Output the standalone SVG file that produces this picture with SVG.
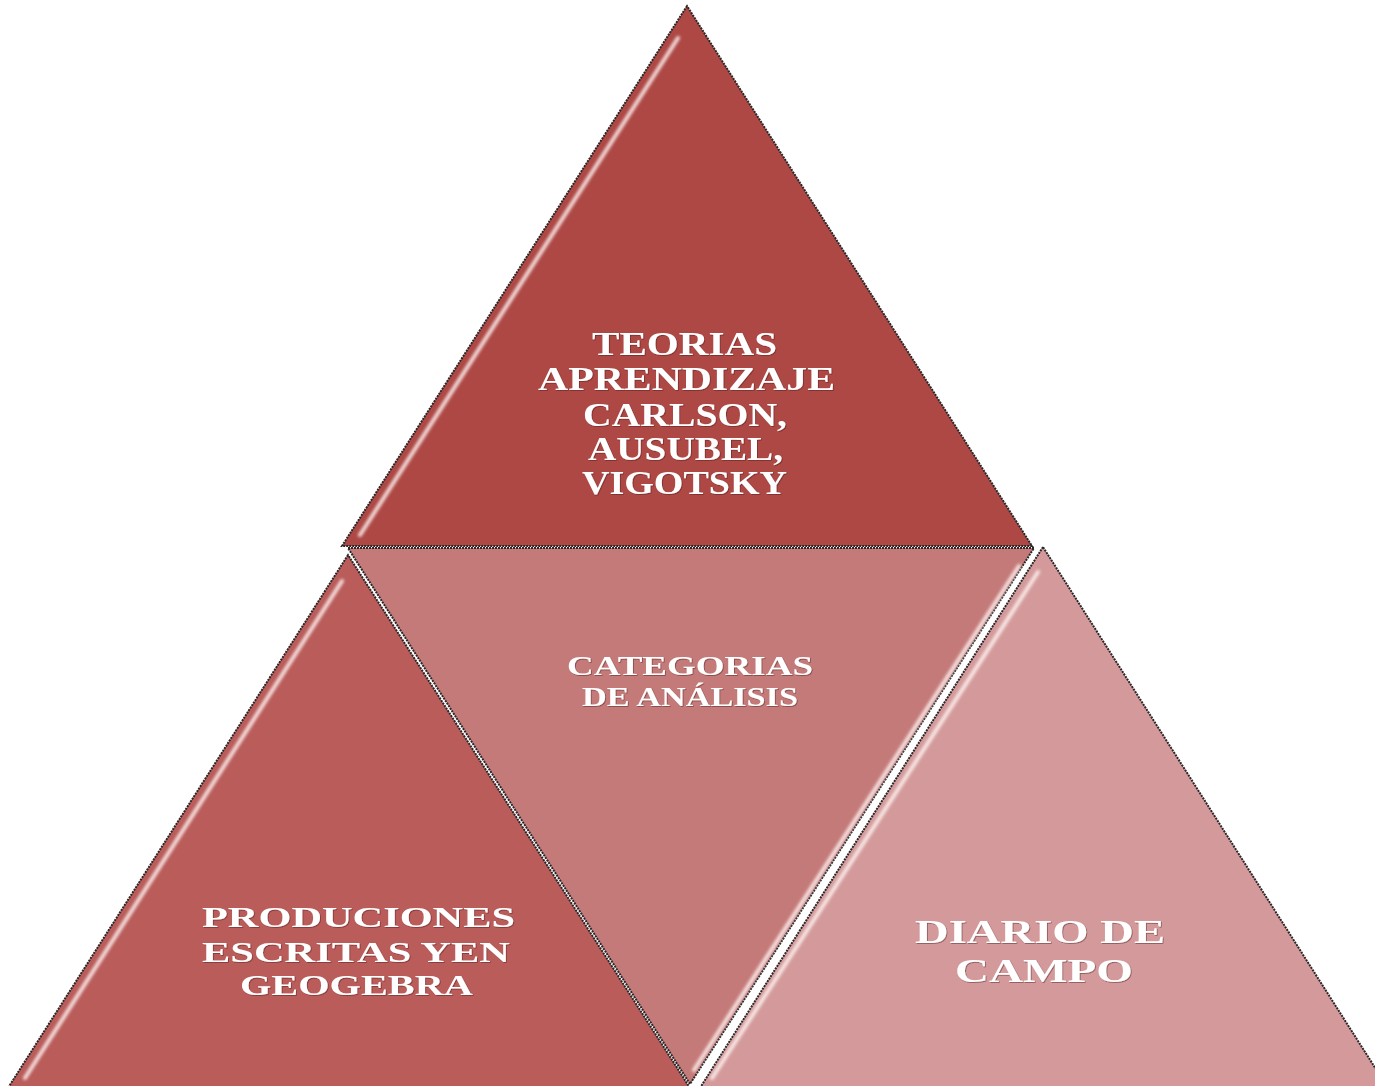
<svg xmlns="http://www.w3.org/2000/svg" width="1375" height="1086" viewBox="0 0 1375 1086">
  <defs>
    <style>
      .edge { stroke: #2b2627; stroke-width: 2; stroke-dasharray: 2 1; stroke-linejoin: miter; }
      .shine { stroke: #fff4f2; stroke-width: 4; stroke-linecap: round; fill: none; opacity: 0.85; filter: url(#soft); }
      .label { font-family: "Liberation Serif", "Times New Roman", serif; font-weight: bold; fill: #ffffff; filter: url(#emboss); }
    </style>
    <filter id="soft" x="-10%" y="-10%" width="120%" height="120%">
      <feGaussianBlur stdDeviation="1.6"/>
    </filter>
    <filter id="emboss" x="-5%" y="-20%" width="110%" height="140%">
      <feDropShadow dx="0.8" dy="0.8" stdDeviation="0.7" flood-color="#4a1414" flood-opacity="0.55"/>
    </filter>
  </defs>

  <rect width="1375" height="1086" fill="#ffffff"/>

  <!-- top triangle -->
  <g id="teorias">
    <polygon class="edge" points="687,6 342,546 1032,546" fill="#ad4845"/>
    <line class="shine" x1="678" y1="38" x2="360" y2="535"/>
    <text class="label" font-size="33" x="592" y="355" textLength="185" lengthAdjust="spacingAndGlyphs">TEORIAS</text>
    <text class="label" font-size="33" x="538" y="390" textLength="297" lengthAdjust="spacingAndGlyphs">APRENDIZAJE</text>
    <text class="label" font-size="33" x="583" y="426" textLength="204" lengthAdjust="spacingAndGlyphs">CARLSON,</text>
    <text class="label" font-size="33" x="588" y="460" textLength="195" lengthAdjust="spacingAndGlyphs">AUSUBEL,</text>
    <text class="label" font-size="33" x="582" y="494" textLength="205" lengthAdjust="spacingAndGlyphs">VIGOTSKY</text>
  </g>

  <!-- bottom-left triangle -->
  <g id="producciones">
    <polygon class="edge" points="348,555 8,1088 690,1088" fill="#b95c5a"/>
    <line class="shine" x1="342" y1="581" x2="25" y2="1078"/>
    <text class="label" font-size="30" x="202" y="927" textLength="313" lengthAdjust="spacingAndGlyphs">PRODUCIONES</text>
    <text class="label" font-size="30" x="202" y="962" textLength="308" lengthAdjust="spacingAndGlyphs">ESCRITAS YEN</text>
    <text class="label" font-size="30" x="240" y="995" textLength="233" lengthAdjust="spacingAndGlyphs">GEOGEBRA</text>
  </g>

  <!-- inverted middle triangle -->
  <g id="categorias">
    <polygon class="edge" points="348,548 1034,548 690,1084" fill="#c47a79"/>
    <line class="shine" x1="370" y1="556" x2="1010" y2="556" opacity="0.35"/>
    <line class="shine" x1="1019" y1="566" x2="694" y2="1070"/>
    <text class="label" font-size="27" x="567" y="675" textLength="246" lengthAdjust="spacingAndGlyphs">CATEGORIAS</text>
    <text class="label" font-size="27" x="582" y="706" textLength="216" lengthAdjust="spacingAndGlyphs">DE ANÁLISIS</text>
  </g>

  <!-- bottom-right triangle -->
  <g id="diario">
    <polygon class="edge" points="1043,547 700,1088 1388,1088" fill="#d49a9b"/>
    <line class="shine" x1="1038" y1="572" x2="712" y2="1078"/>
    <text class="label" font-size="34" x="915" y="943" textLength="250" lengthAdjust="spacingAndGlyphs">DIARIO  DE</text>
    <text class="label" font-size="34" x="955" y="982" textLength="178" lengthAdjust="spacingAndGlyphs">CAMPO</text>
  </g>

  <!-- no connectors in this figure -->
  <g id="connectors"/>
</svg>
